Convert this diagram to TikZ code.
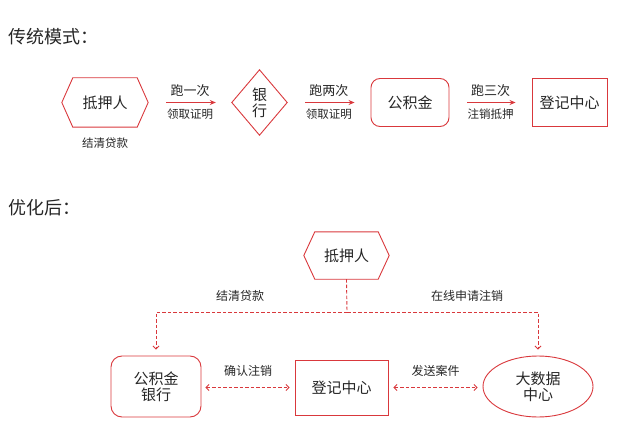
\documentclass[tikz,border=0pt]{standalone}
\usepackage{fontspec}
\setmainfont{Noto Sans CJK SC}
\usetikzlibrary{arrows.meta,shapes.geometric,calc}
\definecolor{cred}{RGB}{217,56,60}
\definecolor{ctext}{RGB}{38,38,38}
\tikzset{
  box/.style={draw=cred, line width=0.9pt, text=ctext, font=\fontsize{15}{18}\selectfont, inner sep=0pt, align=center},
  ghost/.style={inner sep=0pt, text=ctext, font=\fontsize{15}{18}\selectfont, align=center},
  hexline/.style={draw=cred, line width=0.9pt},
  lbltop/.style={text=ctext, font=\fontsize{13}{15}\selectfont, inner sep=0pt},
  lblbot/.style={text=ctext, font=\fontsize{11.5}{14}\selectfont, inner sep=0pt},
  lbl/.style={text=ctext, font=\fontsize{12}{14}\selectfont, inner sep=0pt},
  title/.style={text=ctext, font=\fontsize{18}{22}\selectfont, inner sep=0pt, anchor=west},
  solidarr/.style={draw=cred, line width=1pt, -{Stealth[length=6pt,width=5pt]}, shorten <=18pt, shorten >=16pt},
  dasharr/.style={draw=cred, line width=0.9pt, dash pattern=on 3.5pt off 2pt},
  mybarb/.tip={Straight Barb[length=3pt,width=6pt]},
}
\newcommand{\hexdraw}[2]{%
  \draw[hexline] (#1.west) -- ([xshift=#2]#1.north west) -- ([xshift=-#2]#1.north east) -- (#1.east) -- ([xshift=-#2]#1.south east) -- ([xshift=#2]#1.south west) -- cycle;}
\begin{document}
\begin{tikzpicture}[x=1pt,y=-1pt]
\useasboundingbox (0,0) rectangle (630,444);

% ---------- traditional mode ----------
\node[title] (t1) at (8,37) {传统模式：};

\node[ghost, minimum width=86pt, minimum height=49pt] (h1) at (105,102.5) {抵押人};
\hexdraw{h1}{11pt}
\node[lblbot] (h1l) at (105,143) {结清贷款};

\node[ghost, minimum width=55pt, minimum height=65pt] (bk) at (259.5,102.5) {银\\[-2pt]行};
\draw[hexline] (bk.north) -- (bk.east) -- (bk.south) -- (bk.west) -- cycle;

\node[box, rounded corners=9pt, minimum width=78pt, minimum height=48pt] (gjj) at (410,102.5) {公积金};
\node[box, minimum width=75pt, minimum height=48pt] (djz) at (569.5,102.5) {登记中心};

\draw[solidarr] (h1.east) -- (bk.west)
  node[midway, lbltop, yshift=11.5pt] {跑一次}
  node[midway, lblbot, yshift=-12pt] {领取证明};
\draw[solidarr] (bk.east) -- (gjj.west)
  node[midway, lbltop, yshift=11.5pt] {跑两次}
  node[midway, lblbot, yshift=-12pt] {领取证明};
\draw[solidarr] (gjj.east) -- (djz.west)
  node[midway, lbltop, yshift=11.5pt] {跑三次}
  node[midway, lblbot, yshift=-12pt] {注销抵押};

% ---------- optimised ----------
\node[title] (t2) at (8,208) {优化后：};

\node[ghost, minimum width=85pt, minimum height=47pt] (h2) at (346.5,255.5) {抵押人};
\hexdraw{h2}{11pt}

\node[box, rounded corners=11pt, minimum width=90pt, minimum height=61pt] (gj) at (156,386.5) {公积金\\[-2pt]银行};
\node[box, minimum width=93pt, minimum height=55pt] (dj) at (341.5,387.5) {登记中心};
\node[box, ellipse, minimum width=110pt, minimum height=61pt] (dsj) at (538,386.5) {大数据\\[-2pt]中心};

\coordinate (j) at (347,312);
\draw[dasharr] (h2.south) -- (j);
\draw[dasharr, -mybarb, shorten >=6pt] (j) -| (gj.north);
\draw[dasharr, -mybarb, shorten >=6pt] (j) -| (dsj.north);
\node[lbl] (l1) at (240,296) {结清贷款};
\node[lbl] (l2) at (467,296) {在线申请注销};

\draw[dasharr, mybarb-mybarb, shorten <=4pt, shorten >=5pt] (gj.east |- dj.west) -- (dj.west)
  node[midway, lbl, yshift=17pt] {确认注销};
\draw[dasharr, mybarb-mybarb, shorten <=5pt, shorten >=5pt] (dj.east) -- (dsj.west |- dj.east)
  node[midway, lbl, yshift=17pt] {发送案件};
\end{tikzpicture}
\end{document}
